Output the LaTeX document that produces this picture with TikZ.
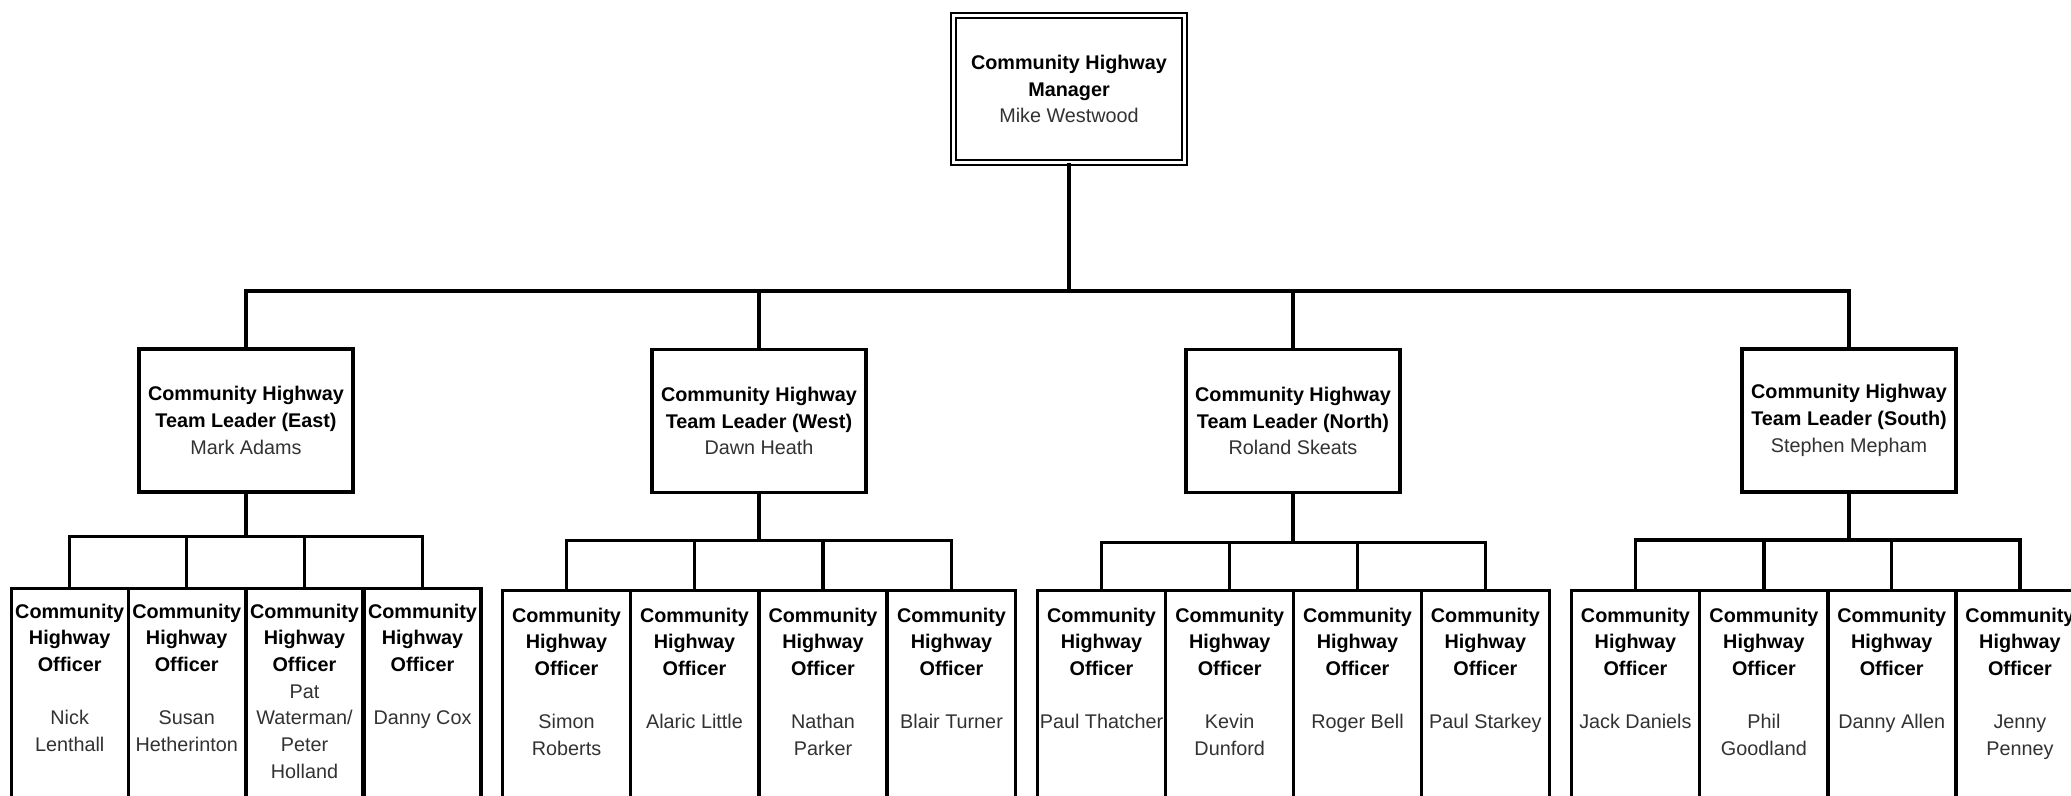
\documentclass[tikz,border=0pt]{standalone}
\usepackage{fontspec}
\setmainfont{Liberation Sans}
\usepackage{xcolor}
\usepackage{tikz}
\usetikzlibrary{positioning, calc}
\definecolor{namegray}{RGB}{50, 50, 50}
\newcommand{\staffname}[1]{{\mdseries\color{namegray}#1}}

\tikzset{
    chart/.style={font=\fontsize{19.8}{26.7}\selectfont\bfseries, align=center},
    mgrbox/.style={chart, draw, double, double distance=3.5pt, line width=1.3pt, minimum width=231pt, minimum height=147pt},
    leadbox/.style={chart, draw, line width=3.3pt, minimum width=214pt, minimum height=143pt},
    offbox/.style={draw, line width=3.3pt, anchor=north, minimum width=#1, minimum height=240pt},
    offbox/.default=128pt,
    offtext/.style={chart, anchor=north, inner sep=0pt},
    link/.style={line width=3.3pt}
}

\begin{document}
\begin{tikzpicture}[x=1pt, y=-1pt]
        \useasboundingbox[fill=white] (0,0) rectangle (2071,795);
        \clip (0,0) rectangle (2071,795);

        % manager and team leaders
        \node[mgrbox] (mgr) at (1069,89) {Community Highway\\Manager\\\staffname{Mike Westwood}};
        \node[leadbox] (tle) at (246,420.5) {Community Highway\\Team Leader (East)\\\staffname{Mark Adams}};
        \node[leadbox] (tlw) at (759,421) {Community Highway\\Team Leader (West)\\\staffname{Dawn Heath}};
        \node[leadbox] (tln) at (1293,421) {Community Highway\\Team Leader (North)\\\staffname{Roland Skeats}};
        \node[leadbox] (tls) at (1849,420.5) {Community Highway\\Team Leader (South)\\\staffname{Stephen Mepham}};

        % officers, east
        \node[offbox=117pt] (e1) at (69.7,586.5) {};
        \node[offbox=117pt] (e2) at (186.7,586.5) {};
        \node[offbox=117pt] (e3) at (304.5,586.5) {};
        \node[offbox=117pt] (e4) at (422.5,586.5) {};
        \node[offtext, below=17pt of e1.north] (e1t) {Community\\Highway\\Officer\\[26.7pt]\staffname{Nick}\\\staffname{Lenthall}};
        \node[offtext, below=17pt of e2.north] (e2t) {Community\\Highway\\Officer\\[26.7pt]\staffname{Susan}\\\staffname{Hetherinton}};
        \node[offtext, below=17pt of e3.north] (e3t) {Community\\Highway\\Officer\\\staffname{Pat}\\\staffname{Waterman/}\\\staffname{Peter}\\\staffname{Holland}};
        \node[offtext, below=17pt of e4.north] (e4t) {Community\\Highway\\Officer\\[26.7pt]\staffname{Danny Cox}};

        % officers, west
        \node[offbox] (w1) at (566.5,588.5) {};
        \node[offbox] (w2) at (694.5,588.5) {};
        \node[offbox] (w3) at (823,588.5) {};
        \node[offbox] (w4) at (951.5,588.5) {};
        \node[offtext, below=19pt of w1.north] (w1t) {Community\\Highway\\Officer\\[26.7pt]\staffname{Simon}\\\staffname{Roberts}};
        \node[offtext, below=19pt of w2.north] (w2t) {Community\\Highway\\Officer\\[26.7pt]\staffname{Alaric Little}};
        \node[offtext, below=19pt of w3.north] (w3t) {Community\\Highway\\Officer\\[26.7pt]\staffname{Nathan}\\\staffname{Parker}};
        \node[offtext, below=19pt of w4.north] (w4t) {Community\\Highway\\Officer\\[26.7pt]\staffname{Blair Turner}};

        % officers, north
        \node[offbox] (n1) at (1101.5,588.5) {};
        \node[offbox] (n2) at (1229.7,588.5) {};
        \node[offbox] (n3) at (1357.5,588.5) {};
        \node[offbox] (n4) at (1485.3,588.5) {};
        \node[offtext, below=19pt of n1.north] (n1t) {Community\\Highway\\Officer\\[26.7pt]\staffname{Paul Thatcher}};
        \node[offtext, below=19pt of n2.north] (n2t) {Community\\Highway\\Officer\\[26.7pt]\staffname{Kevin}\\\staffname{Dunford}};
        \node[offtext, below=19pt of n3.north] (n3t) {Community\\Highway\\Officer\\[26.7pt]\staffname{Roger Bell}};
        \node[offtext, below=19pt of n4.north] (n4t) {Community\\Highway\\Officer\\[26.7pt]\staffname{Paul Starkey}};

        % officers, south
        \node[offbox=128.5pt] (s1) at (1635.4,588.5) {};
        \node[offbox=128.5pt] (s2) at (1763.9,588.5) {};
        \node[offbox=128.5pt] (s3) at (1891.7,588.5) {};
        \node[offbox=128.5pt] (s4) at (2019.9,588.5) {};
        \node[offtext, below=19pt of s1.north] (s1t) {Community\\Highway\\Officer\\[26.7pt]\staffname{Jack Daniels}};
        \node[offtext, below=19pt of s2.north] (s2t) {Community\\Highway\\Officer\\[26.7pt]\staffname{Phil}\\\staffname{Goodland}};
        \node[offtext, below=19pt of s3.north] (s3t) {Community\\Highway\\Officer\\[26.7pt]\staffname{Danny Allen}};
        \node[offtext, below=19pt of s4.north] (s4t) {Community\\Highway\\Officer\\[26.7pt]\staffname{Jenny}\\\staffname{Penney}};

        % connectors
        \coordinate (topbus) at (1069,291);
        \coordinate (ebus) at (246,536.7);
        \coordinate (wbus) at (759,540.7);
        \coordinate (nbus) at (1293,542.4);
        \coordinate (sbus) at (1849,540);
        \draw[link] (mgr.south) -- (topbus);
        \draw[link] (tle.north) |- (topbus) -| (tls.north);
        \draw[link] (tlw.north) -- (tlw.north |- topbus);
        \draw[link] (tln.north) -- (tln.north |- topbus);

        \draw[link] (tle.south) -- (ebus);
        \draw[link] (e1.north) |- (ebus) -| (e4.north);
        \draw[link] (e2.north) -- (e2.north |- ebus);
        \draw[link] (e3.north) -- (e3.north |- ebus);

        \draw[link] (tlw.south) -- (wbus);
        \draw[link] (w1.north) |- (wbus) -| (w4.north);
        \draw[link] (w2.north) -- (w2.north |- wbus);
        \draw[link] (w3.north) -- (w3.north |- wbus);

        \draw[link] (tln.south) -- (nbus);
        \draw[link] (n1.north) |- (nbus) -| (n4.north);
        \draw[link] (n2.north) -- (n2.north |- nbus);
        \draw[link] (n3.north) -- (n3.north |- nbus);

        \draw[link] (tls.south) -- (sbus);
        \draw[link] (s1.north) |- (sbus) -| (s4.north);
        \draw[link] (s2.north) -- (s2.north |- sbus);
        \draw[link] (s3.north) -- (s3.north |- sbus);
    \end{tikzpicture}
\end{document}
